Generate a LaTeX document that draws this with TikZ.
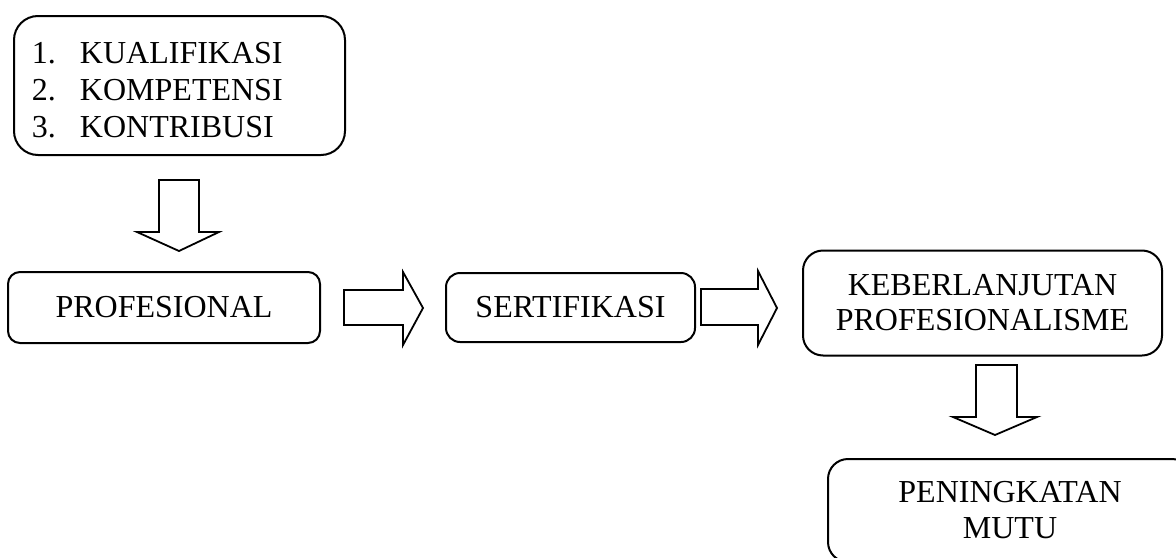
\documentclass[tikz,border=0pt]{standalone}
\usepackage{fontspec}
\setmainfont{Liberation Serif}
\begin{document}
\begin{tikzpicture}[x=0.5pt,y=-0.5pt,
  box/.style={draw=black, line width=1pt, inner sep=0pt, font=\fontsize{16}{18}\selectfont, align=center},
  txt/.style={inner sep=0pt, font=\fontsize{16}{18.5}\selectfont},
  blockarrow/.style={draw=black, fill=white, line width=0.9pt, line join=miter}]
\clip (0,0) rectangle (1176,557);
\useasboundingbox (0,0) rectangle (1176,557);
% boxes
\node[box, rounded corners=12pt, minimum width=165.5pt, minimum height=69.5pt] (quals) at (179.5,85.5) {};
\node[txt, text width=147.5pt, align=left] (qualstext) at (179.5,90)
  {\makebox[24pt][l]{1.}KUALIFIKASI\\\makebox[24pt][l]{2.}KOMPETENSI\\\makebox[24pt][l]{3.}KONTRIBUSI};
\node[box, rounded corners=6pt, minimum width=156pt, minimum height=35.5pt] (prof) at (164,307.5) {PROFESIONAL};
\node[box, rounded corners=7pt, minimum width=124.5pt, minimum height=34.5pt] (sert) at (570.5,307.5) {SERTIFIKASI};
\node[box, rounded corners=10pt, minimum width=179.5pt, minimum height=52.5pt, font=\fontsize{16}{17.5}\selectfont] (keb) at (982.5,303) {KEBERLANJUTAN\\PROFESIONALISME};
\node[box, rounded corners=10pt, minimum width=182pt, minimum height=51.5pt] (mutu) at (1010,510.5) {PENINGKATAN\\MUTU};
% block arrows
\draw[blockarrow] (159,180) -- (199,180) -- (199,232) -- (219,232) -- (179,251) -- (137,232) -- (159,232) -- cycle;
\draw[blockarrow] (344,290) -- (403,290) -- (403,272) -- (423,308) -- (403,345) -- (403,325) -- (344,325) -- cycle;
\draw[blockarrow] (701,289) -- (758,289) -- (758,271) -- (777,308) -- (758,345) -- (758,325) -- (701,325) -- cycle;
\draw[blockarrow] (976,365) -- (1017,365) -- (1017,417) -- (1037,417) -- (995,435) -- (953,417) -- (976,417) -- cycle;
\end{tikzpicture}
\end{document}
